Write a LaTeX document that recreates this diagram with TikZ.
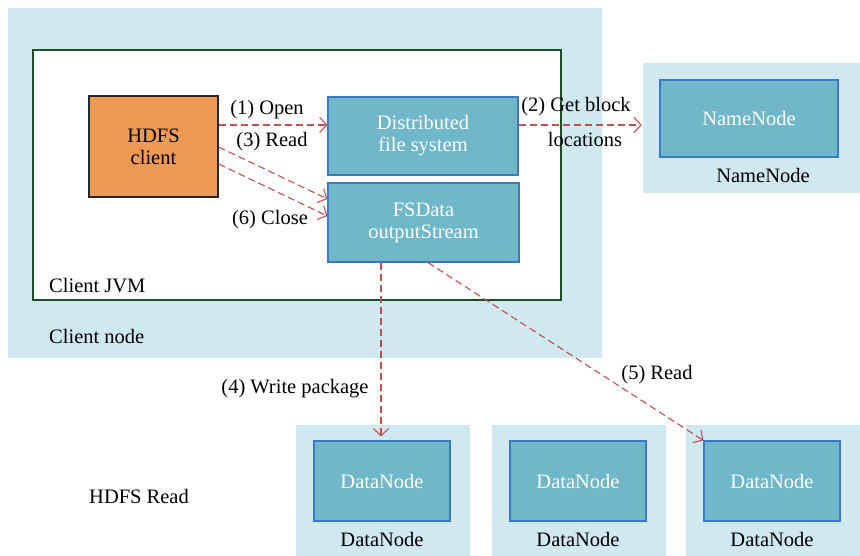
\documentclass[tikz,border=0pt]{standalone}
\usepackage{fontspec}
\setmainfont{Liberation Serif}
\usetikzlibrary{arrows.meta}
\definecolor{panel}{HTML}{D0E8EF}
\definecolor{boxfill}{HTML}{6FB7C9}
\definecolor{boxline}{HTML}{3A78C8}
\definecolor{clientfill}{HTML}{EE9A55}
\definecolor{flow}{HTML}{C0504D}
\definecolor{jvmline}{HTML}{1E4D2B}
\tikzset{
  panelbox/.style={fill=panel, draw=none, inner sep=0pt},
  service/.style={fill=boxfill, draw=boxline, line width=1.1pt, text=white, align=center, inner sep=0pt},
  txt/.style={text=black, inner sep=0pt, align=center, yshift=-2.5pt},
  flowline/.style={draw=flow, line width=1.1pt, dash pattern=on 7pt off 4pt, -{Straight Barb[length=7pt,width=15pt]}}
}
\begin{document}
\begin{tikzpicture}[x=1pt,y=-1pt, font=\fontsize{20.5}{22}\selectfont]
\useasboundingbox (0,0) rectangle (860,556);
% background panels
\node[panelbox, minimum width=594pt, minimum height=350pt] (clientnode) at (305,183) {};
\node[panelbox, minimum width=217pt, minimum height=130pt] (nnpanel) at (751.5,128) {};
\node[panelbox, minimum width=174pt, minimum height=131pt] (dnpanel1) at (383,490.5) {};
\node[panelbox, minimum width=174pt, minimum height=131pt] (dnpanel2) at (579,490.5) {};
\node[panelbox, minimum width=174pt, minimum height=131pt] (dnpanel3) at (773,490.5) {};
% client JVM frame
\node[draw=jvmline, fill=white, line width=1.1pt, minimum width=528pt, minimum height=250pt, inner sep=0pt] (jvm) at (297,175) {};
% components
\node[fill=clientfill, draw=black!85, line width=1.3pt, minimum width=129pt, minimum height=101pt, align=center, inner sep=0pt] (client) at (153.5,146.5) {HDFS\\client};
\node[service, minimum width=190pt, minimum height=78pt] (dfs) at (423,136) {Distributed\\file system};
\node[service, minimum width=191pt, minimum height=79pt] (fsdata) at (423.5,222.5) {FSData\\outputStream};
\node[service, minimum width=178pt, minimum height=77pt] (nn) at (749,118.5) {NameNode};
\node[service, minimum width=136pt, minimum height=80pt] (dn1) at (382,481) {DataNode};
\node[service, minimum width=136pt, minimum height=80pt] (dn2) at (578,481) {DataNode};
\node[service, minimum width=136pt, minimum height=80pt] (dn3) at (772,481) {DataNode};
% labels
\node[txt] (lnn) at (763,173) {NameNode};
\node[txt] (ldn1) at (382,537) {DataNode};
\node[txt] (ldn2) at (578,537) {DataNode};
\node[txt] (ldn3) at (772,537) {DataNode};
\node[txt, anchor=west] (ljvm) at (49,283) {Client JVM};
\node[txt, anchor=west] (lcn) at (49,334) {Client node};
\node[txt, anchor=west] (lread) at (89,494) {HDFS Read};
\node[txt] (l1) at (267,107) {(1) Open};
\node[txt] (l3) at (272,139) {(3) Read};
\node[txt] (l6) at (270,217) {(6) Close};
\node[txt] (l2a) at (576,104) {(2) Get block};
\node[txt] (l2b) at (585,137) {locations};
\node[txt] (l4) at (295,386) {(4) Write package};
\node[txt] (l5) at (657,372) {(5) Read};
% data flow
\draw[flowline] ([yshift=21.5pt]client.east) -- ([yshift=11pt]dfs.west);
\draw[flowline] ([yshift=-0.5pt]client.east) -- ([yshift=23.5pt]fsdata.west);
\draw[flowline] ([yshift=-17.5pt]client.east) -- ([yshift=6.5pt]fsdata.west);
\draw[flowline] ([yshift=11pt]dfs.east) -- ([yshift=3pt,xshift=-1pt]nnpanel.west);
\draw[flowline] ([xshift=-42.5pt]fsdata.south) -- ([xshift=-1pt,yshift=4pt]dn1.north);
\draw[flowline] ([xshift=4.5pt]fsdata.south) -- (dn3.north west);
\end{tikzpicture}
\end{document}
